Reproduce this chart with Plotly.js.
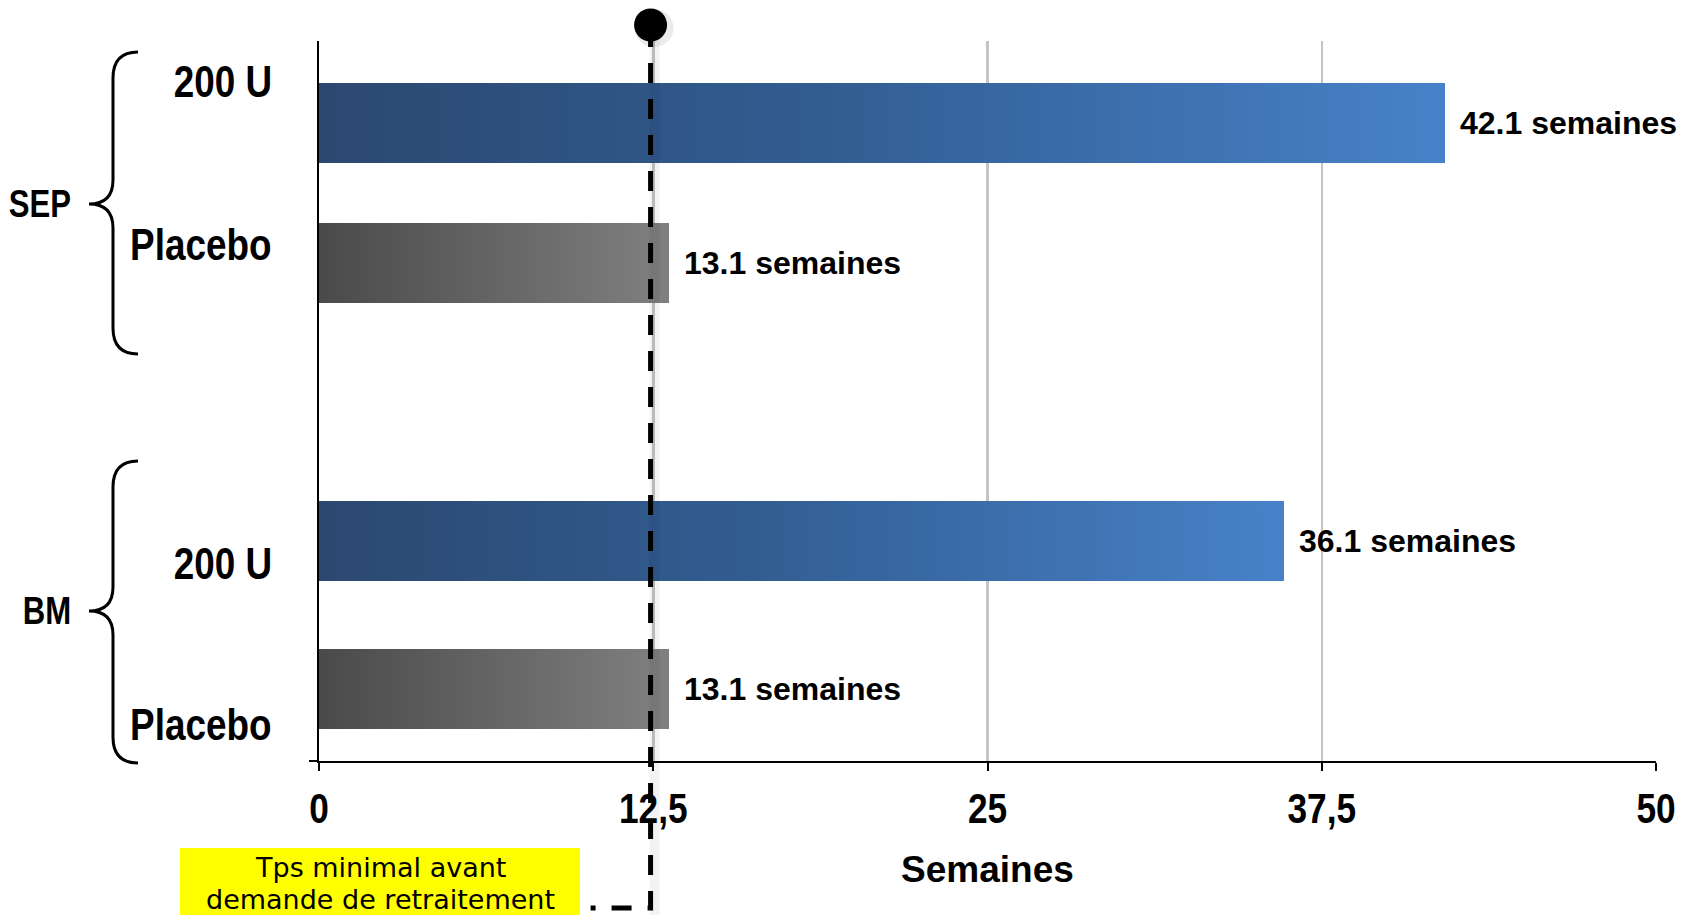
<!DOCTYPE html>
<html>
<head>
<meta charset="utf-8">
<script src="https://cdn.plot.ly/plotly-3.0.1.min.js"></script>
<style>
  html, body { margin: 0; padding: 0; background: #ffffff; }
  #chart { width: 1694px; height: 915px; }
</style>
</head>
<body>
<div id="chart"></div>
<script>
// Time before retreatment request, by population and treatment arm (weeks)
const groupNames = ['SEP', 'BM'];
const arms = ['200 U', 'Placebo', '200 U', 'Placebo'];
const weeks = [42.1, 13.1, 36.1, 13.1];
const tickValues = [0, 12.5, 25, 37.5, 50];
const tickLabels = ['0', '12,5', '25', '37,5', '50'];
const minRetreatWeeks = 12.4;
const noteLines = ['Tps minimal avant', 'demande de retraitement'];
const axisTitle = 'Semaines';
const unitLabel = 'semaines';

// Vertical slots on the y axis (0 = top of plot, 9 = bottom)
const rowPos = [1.025, 2.775, 6.25, 8.1];
const armLabelPos = [0.5, 2.54, 6.525, 8.54];

// Plot frame in pixels, used to place decorations outside the axes
const frame = { left: 319, right: 1656, top: 41, bottom: 761 };
const px2x = p => (p - frame.left) / (frame.right - frame.left);
const px2y = p => (frame.bottom - p) / (frame.bottom - frame.top);
const pxPerWeek = (frame.right - frame.left) / 50;

// Curly brace spanning [yTop, yBot] with its point at yTip
function bracePath(yTop, yTip, yBot) {
  const xe = 138, xs = 113, xt = 89, r = 26, q = 24;
  const P = (x, y) => px2x(x).toFixed(5) + ',' + px2y(y).toFixed(5);
  return 'M ' + P(xe, yTop) +
    ' Q ' + P(xs, yTop) + ' ' + P(xs, yTop + r) +
    ' L ' + P(xs, yTip - q) +
    ' Q ' + P(xs, yTip) + ' ' + P(xt, yTip) +
    ' Q ' + P(xs, yTip) + ' ' + P(xs, yTip + q) +
    ' L ' + P(xs, yBot - r) +
    ' Q ' + P(xs, yBot) + ' ' + P(xe, yBot);
}
const braces = [
  { name: groupNames[0], top: 52, tip: 204, bottom: 354 },
  { name: groupNames[1], top: 461, tip: 611, bottom: 763 }
];

// Bold sans; labels flagged "narrow" get condensed horizontally after drawing
const sansBold = { family: '"Liberation Sans", Arial, Helvetica, sans-serif', weight: 'bold', color: '#000000' };
const NARROW = 0.82;

const barTrace = {
  type: 'bar',
  orientation: 'h',
  x: weeks,
  y: rowPos,
  width: 0.99,
  marker: { color: arms.map(a => a === 'Placebo' ? '#666666' : '#3a6aa6'), line: { width: 0 } },
  hoverinfo: 'skip',
  showlegend: false
};

const annotations = [];
// arm labels (condensed)
arms.forEach((a, i) => {
  annotations.push({
    xref: 'paper', yref: 'y', x: px2x(274), y: armLabelPos[i],
    xanchor: 'right', yanchor: 'middle', showarrow: false,
    text: a, font: Object.assign({ size: 45 }, sansBold), name: 'narrow'
  });
});
// group labels (condensed)
braces.forEach(b => {
  annotations.push({
    xref: 'paper', yref: 'paper', x: px2x(73), y: px2y(b.tip),
    xanchor: 'right', yanchor: 'middle', showarrow: false,
    text: b.name, font: Object.assign({ size: 38 }, sansBold), name: 'narrow'
  });
});
// value labels
weeks.forEach((v, i) => {
  annotations.push({
    xref: 'x', yref: 'y', x: v, y: rowPos[i], xshift: 13,
    xanchor: 'left', yanchor: 'middle', showarrow: false,
    text: v.toFixed(1) + ' ' + unitLabel, font: Object.assign({ size: 32 }, sansBold)
  });
});
// note in the yellow box
[867, 899].forEach((py, i) => {
  annotations.push({
    xref: 'paper', yref: 'paper', x: px2x(380), y: px2y(py),
    xanchor: 'center', yanchor: 'middle', showarrow: false,
    text: noteLines[i],
    font: { family: '"DejaVu Sans", Verdana, sans-serif', size: 27, color: '#000000' }
  });
});

const shapes = [];
braces.forEach(b => {
  shapes.push({
    type: 'path', xref: 'paper', yref: 'paper',
    path: bracePath(b.top, b.tip, b.bottom),
    line: { color: '#000000', width: 3 }
  });
});
// yellow note box
shapes.push({
  type: 'rect', xref: 'paper', yref: 'paper',
  x0: px2x(180), x1: px2x(580), y0: px2y(930), y1: px2y(848),
  fillcolor: '#ffff00', line: { width: 0 }
});
// soft shadow along the threshold line
shapes.push({
  type: 'line', xref: 'x', yref: 'paper', layer: 'above',
  x0: minRetreatWeeks + 4 / pxPerWeek, x1: minRetreatWeeks + 4 / pxPerWeek,
  y0: px2y(36), y1: px2y(915),
  line: { color: 'rgba(0,0,0,0.05)', width: 10 }
});
// threshold line, bending to the note box at the bottom
shapes.push({
  type: 'path', xref: 'x', yref: 'paper', layer: 'above',
  path: 'M ' + minRetreatWeeks + ',' + px2y(27) +
        ' L ' + minRetreatWeeks + ',' + px2y(908) +
        ' L ' + (minRetreatWeeks - 60 / pxPerWeek) + ',' + px2y(908),
  line: { color: '#000000', width: 5, dash: '20px,16px' }
});
// dot at the top of the threshold line, with its shadow
shapes.push({
  type: 'circle', xref: 'x', yref: 'paper', layer: 'above',
  xsizemode: 'pixel', ysizemode: 'pixel',
  xanchor: minRetreatWeeks, yanchor: px2y(25),
  x0: -16, x1: 23, y0: -22, y1: 16,
  fillcolor: 'rgba(0,0,0,0.08)', line: { width: 0 }
});
shapes.push({
  type: 'circle', xref: 'x', yref: 'paper', layer: 'above',
  xsizemode: 'pixel', ysizemode: 'pixel',
  xanchor: minRetreatWeeks, yanchor: px2y(25),
  x0: -16.5, x1: 16.5, y0: -16.5, y1: 16.5,
  fillcolor: '#000000', line: { width: 0 }
});

const layout = {
  width: 1694, height: 915,
  paper_bgcolor: '#ffffff', plot_bgcolor: '#ffffff',
  margin: { l: frame.left, r: 1694 - frame.right, t: frame.top, b: 915 - frame.bottom, pad: 0 },
  showlegend: false,
  bargap: 0,
  xaxis: {
    range: [0, 50], tickvals: tickValues, ticktext: tickLabels,
    showgrid: true, gridcolor: '#c4c4c4', gridwidth: 2.5,
    zeroline: false, showline: true, linecolor: '#000000', linewidth: 2,
    ticks: 'outside', ticklen: 8, tickwidth: 2, tickcolor: '#000000',
    ticklabelstandoff: 0,
    tickfont: Object.assign({ size: 43 }, sansBold),
    title: { text: axisTitle, font: Object.assign({ size: 37 }, sansBold), standoff: 26 },
    fixedrange: true
  },
  yaxis: {
    range: [9, 0], showgrid: false, zeroline: false,
    showline: true, linecolor: '#000000', linewidth: 2,
    tickvals: [9], ticks: 'outside', ticklen: 8, tickwidth: 2, tickcolor: '#000000',
    showticklabels: false, fixedrange: true
  },
  annotations: annotations,
  shapes: shapes
};

// Squeeze a text element horizontally around a fixed anchor (its own coordinates)
function condense(el, where) {
  const bb = el.getBBox();
  const ax = where === 'right' ? bb.x + bb.width : bb.x + bb.width / 2;
  const prev = el.getAttribute('transform') || '';
  el.setAttribute('transform', prev + ' translate(' + ax + ',0) scale(' + NARROW + ',1) translate(' + (-ax) + ',0)');
}

// Horizontal gradient fills for the bars, and condensed labels
function finish(gd) {
  const svg = gd.querySelector('svg.main-svg');
  const ns = 'http://www.w3.org/2000/svg';
  let defs = svg.querySelector('defs');
  if (!defs) { defs = document.createElementNS(ns, 'defs'); svg.insertBefore(defs, svg.firstChild); }
  const grads = {
    gradActive: [['0%', '#2b4870'], ['45%', '#325d92'], ['100%', '#4782c8']],
    gradPlacebo: [['0%', '#4a4a4a'], ['100%', '#808080']]
  };
  Object.keys(grads).forEach(id => {
    const lg = document.createElementNS(ns, 'linearGradient');
    lg.setAttribute('id', id);
    lg.setAttribute('x1', '0'); lg.setAttribute('y1', '0');
    lg.setAttribute('x2', '1'); lg.setAttribute('y2', '0');
    grads[id].forEach(s => {
      const st = document.createElementNS(ns, 'stop');
      st.setAttribute('offset', s[0]);
      st.setAttribute('stop-color', s[1]);
      lg.appendChild(st);
    });
    defs.appendChild(lg);
  });
  gd.querySelectorAll('.barlayer .point path').forEach((p, i) => {
    p.style.fill = arms[i] === 'Placebo' ? 'url(#gradPlacebo)' : 'url(#gradActive)';
  });

  gd.querySelectorAll('.annotation').forEach(g => {
    const idx = +g.getAttribute('data-index');
    if (layout.annotations[idx] && layout.annotations[idx].name === 'narrow') {
      const t = g.querySelector('text.annotation-text');
      if (t) condense(t, 'right');
    }
  });
  gd.querySelectorAll('.xtick text').forEach(t => condense(t, 'center'));
}

Plotly.newPlot('chart', [barTrace], layout, { displayModeBar: false, staticPlot: true })
  .then(finish);
</script>
</body>
</html>
